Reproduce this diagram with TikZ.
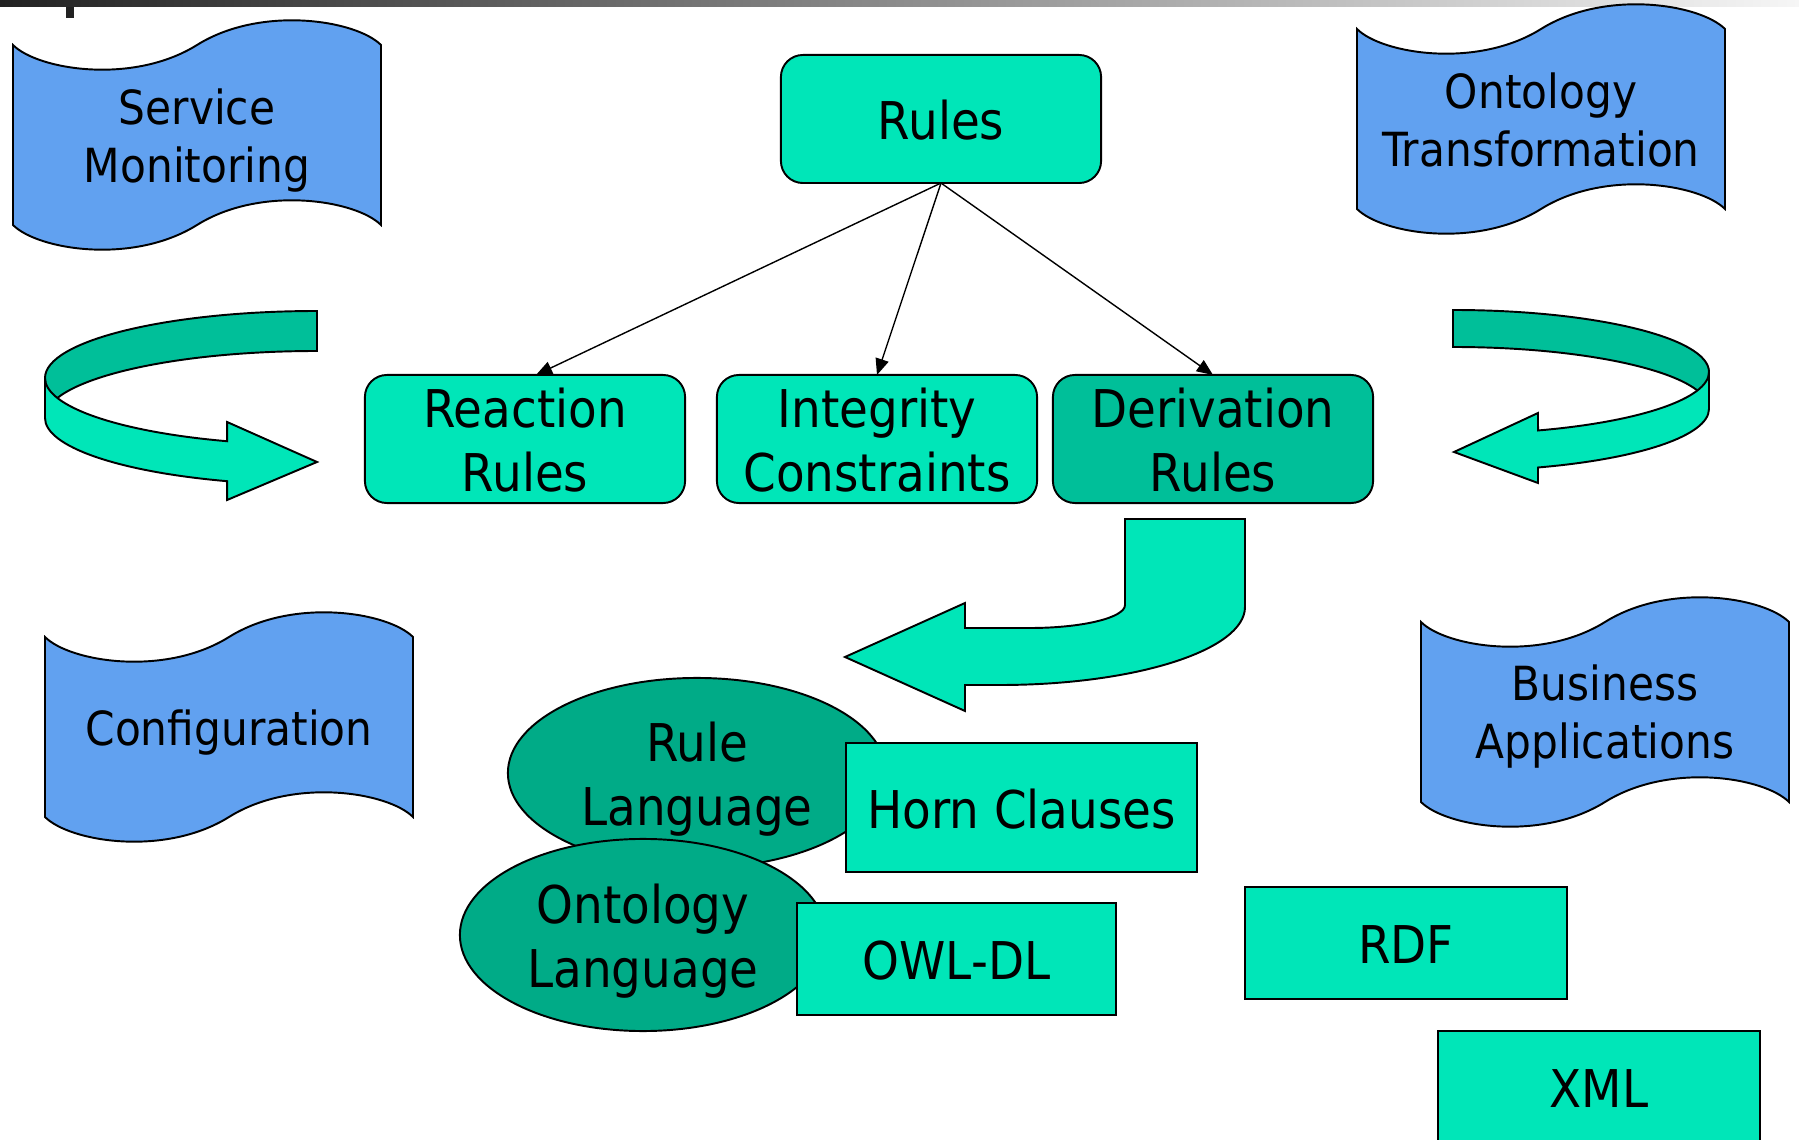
\documentclass[tikz,border=0pt]{standalone}
\usepackage{fontspec}
\setmainfont{DejaVu Sans}[FakeStretch=0.9]
\usetikzlibrary{arrows.meta,shapes.geometric}

\definecolor{turq}{HTML}{00E6B8}
\definecolor{turqdark}{HTML}{00BF99}
\definecolor{ellfill}{HTML}{00AB87}
\definecolor{docblue}{HTML}{61A1F0}
\definecolor{bardark}{HTML}{222222}
\definecolor{barmid}{HTML}{A8A8A8}
\definecolor{barlight}{HTML}{F6F6F6}

% line struts: ascent and descent of one text line
\newcommand\lb{\rule[-3.06pt]{0pt}{17.86pt}}
\newcommand\lw{\rule[-2.77pt]{0pt}{16.14pt}}

\tikzset{
  wavedoc/.pic={
    \path[draw=black, line width=0.55pt, fill=docblue]
      (0,0) .. controls (25,25) and (120,40) .. (184,0)
            .. controls (248,-40) and (343,-25) .. (368,0)
      -- (368,180) .. controls (343,155) and (248,140) .. (184,180)
                   .. controls (120,220) and (25,205) .. (0,180) -- cycle;
  }
}

\begin{document}
\begin{tikzpicture}[x=0.01cm, y=-0.01cm,
  every node/.style={inner sep=0pt, outer sep=0pt},
  boxtext/.style={font=\fontsize{14.8pt}{18.2pt}\selectfont, align=center},
  wavetext/.style={font=\fontsize{13.37pt}{16.4pt}\selectfont, align=center},
  rbox/.style={boxtext, draw=black, line width=0.55pt, fill=turq,
    rounded corners=0.22cm, minimum width=3.2cm, minimum height=1.28cm},
  sbox/.style={boxtext, draw=black, line width=0.55pt, fill=turq},
  langell/.style={boxtext, ellipse, draw=black, line width=0.55pt, fill=ellfill},
  conn/.style={draw=black, line width=0.4pt, -{Triangle[length=4.6pt,width=3.8pt]}},
  ribbon/.style={draw=black, line width=0.55pt}
]
\useasboundingbox (0,0) rectangle (1799,1140);
\clip (0,0) rectangle (1799,1140);

% header bar
\shade[left color=bardark, middle color=barmid, right color=barlight] (0,0) rectangle (1799,7);
\fill[bardark] (66,7) rectangle (74,18);

% wave-shaped documents
\pic at (13,45) {wavedoc};
\node[wavetext] (svc) at (197,135) {\lw Service\\\lw Monitoring};
\pic at (1357,29) {wavedoc};
\node[wavetext] (ontt) at (1541,119) {\lw Ontology\\\lw Transformation};
\pic at (45,637) {wavedoc};
\node[wavetext] (conf) at (229,727) {\lw Configuration};
\pic at (1421,622) {wavedoc};
\node[wavetext] (bapp) at (1605,711) {\lw Business\\\lw Applications};

% rule hierarchy
\node[rbox] (rules) at (941,119) {\lb Rules};
\node[rbox] (react) at (525,439) {\lb Reaction\\\lb Rules};
\node[rbox] (integ) at (877,439) {\lb Integrity\\\lb Constraints};
\node[rbox, fill=turqdark] (deriv) at (1213,439) {\lb Derivation\\\lb Rules};

\draw[conn] (rules.south) -- ([xshift=0.11cm]react.north);
\draw[conn] (rules.south) -- (integ.north);
\draw[conn] (rules.south) -- (deriv.north);

% left circular ribbon arrow
\path[ribbon, fill=turqdark] (317,311)
  arc[start angle=270, end angle=180, x radius=272, y radius=67]
  -- ++(0,40)
  arc[start angle=180, end angle=270, x radius=272, y radius=67] -- cycle;
\path[ribbon, fill=turq] (45,378)
  arc[start angle=180, end angle=109.3, x radius=272, y radius=67]
  -- (227.1,422) -- (317,462) -- (227.1,500) -- (227.1,481.2)
  arc[start angle=109.3, end angle=180, x radius=272, y radius=67] -- cycle;

% right circular ribbon arrow
\path[ribbon, fill=turqdark] (1453,310)
  arc[start angle=270, end angle=360, x radius=256, y radius=62]
  -- ++(0,37)
  arc[start angle=360, end angle=270, x radius=256, y radius=62] -- cycle;
\path[ribbon, fill=turq] (1709,372)
  arc[start angle=0, end angle=70.6, x radius=256, y radius=62]
  -- (1538,413) -- (1454,452) -- (1538,483) -- (1538,467.5)
  arc[start angle=70.6, end angle=0, x radius=256, y radius=62] -- cycle;

% bent arrow below the derivation rules
\path[ribbon, fill=turq] (1125,519) -- (1245,519) -- (1245,607)
  arc[start angle=0, end angle=90, x radius=245, y radius=78]
  -- (965,685) -- (965,711) -- (845,657) -- (965,603) -- (965,628) -- (1030,628)
  arc[start angle=90, end angle=0, x radius=95, y radius=23] -- cycle;

% languages and formats
\node[langell, minimum width=3.78cm, minimum height=1.9cm] (rulelang) at (697,773) {\lb Rule\\\lb Language};
\node[sbox, minimum width=3.51cm, minimum height=1.29cm] (horn) at (1021.5,807.5) {\lb Horn Clauses};
\node[langell, minimum width=3.66cm, minimum height=1.92cm] (ontlang) at (643,935) {\lb Ontology\\\lb Language};
\node[sbox, minimum width=3.19cm, minimum height=1.12cm] (owl) at (956.5,959) {\lb OWL-DL};
\node[sbox, minimum width=3.22cm, minimum height=1.12cm] (rdf) at (1406,943) {\lb RDF};
\node[sbox, minimum width=3.22cm, minimum height=1.11cm] (xml) at (1599,1086.5) {\lb XML};
\end{tikzpicture}
\end{document}
